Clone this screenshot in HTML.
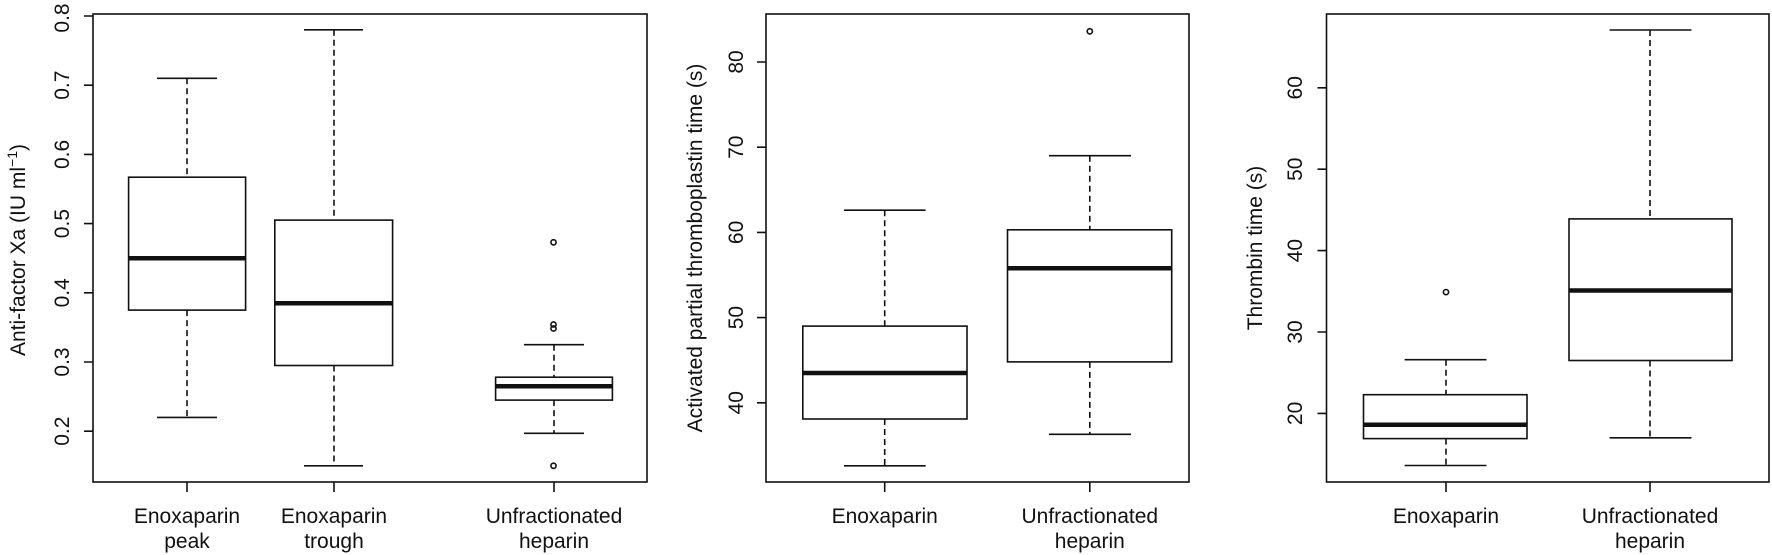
<!DOCTYPE html>
<html><head><meta charset="utf-8"><style>
html,body{margin:0;padding:0;background:#fff;}
svg{display:block;}
text{font-family:"Liberation Sans",Arial,sans-serif;fill:#111;font-size:21px;}
</style></head><body>
<svg width="1772" height="555" viewBox="0 0 1772 555" xmlns="http://www.w3.org/2000/svg">
<g stroke="#111" stroke-width="1.6" fill="none">
<!-- Panel 1 -->
<rect x="93" y="14" width="554" height="468"/>
<path d="M84 431.2H93M84 362H93M84 292.8H93M84 223.6H93M84 154.4H93M84 85.2H93M84 16H93"/>
<path d="M187 482V492M334 482V492M554 482V492"/>
<rect x="128.6" y="177.2" width="117" height="132.9" fill="#fff"/>
<path d="M157 78.3H217M157 417.4H217"/>
<path d="M187 78.3V177.2M187 310.1V417.4" stroke-dasharray="6,4"/>
<path d="M128.6 258.2H245.6" stroke-width="4.5"/>
<rect x="274.8" y="220.1" width="117.8" height="145.4" fill="#fff"/>
<path d="M304 29.8H363M304 465.8H363"/>
<path d="M334 29.8V220.1M334 365.5V465.8" stroke-dasharray="6,4"/>
<path d="M274.8 303.2H392.6" stroke-width="4.5"/>
<rect x="495.6" y="377.2" width="116.8" height="22.9" fill="#fff"/>
<path d="M524 344.7H584M524 433.3H584"/>
<path d="M554 344.7V377.2M554 400.1V433.3" stroke-dasharray="6,4"/>
<path d="M495.6 386.2H612.4" stroke-width="4.5"/>
<circle cx="553.5" cy="242.3" r="2.6"/>
<circle cx="553.5" cy="324.5" r="2.6"/>
<circle cx="553.5" cy="328.5" r="2.6"/>
<circle cx="553.5" cy="465.8" r="2.6"/>

<!-- Panel 2 -->
<rect x="766" y="14" width="423" height="468"/>
<path d="M757 402.8H766M757 317.6H766M757 232.4H766M757 147.2H766M757 62H766"/>
<path d="M884.7 482V492M1089.8 482V492"/>
<rect x="802.8" y="326.1" width="164.2" height="92.9" fill="#fff"/>
<path d="M844 210.2H925.6M844 465.8H925.6"/>
<path d="M884.7 210.2V326.1M884.7 419V465.8" stroke-dasharray="6,4"/>
<path d="M802.8 373H967" stroke-width="4.5"/>
<rect x="1007.5" y="229.8" width="164.2" height="132.1" fill="#fff"/>
<path d="M1049 155.7H1131M1049 434.3H1131"/>
<path d="M1089.8 155.7V229.8M1089.8 361.9V434.3" stroke-dasharray="6,4"/>
<path d="M1007.5 268.2H1171.7" stroke-width="4.5"/>
<circle cx="1089.8" cy="31.3" r="2.6"/>

<!-- Panel 3 -->
<rect x="1326.5" y="14" width="442.5" height="468"/>
<path d="M1317.5 413.4H1326.5M1317.5 332H1326.5M1317.5 250.6H1326.5M1317.5 169.2H1326.5M1317.5 87.8H1326.5"/>
<path d="M1446 482V492M1650 482V492"/>
<rect x="1363.5" y="394.7" width="163.5" height="43.9" fill="#fff"/>
<path d="M1404.6 359.7H1486.5M1404.6 465.5H1486.5"/>
<path d="M1446 359.7V394.7M1446 438.6V465.5" stroke-dasharray="6,4"/>
<path d="M1363.5 424.8H1527" stroke-width="4.5"/>
<circle cx="1446" cy="292.1" r="2.6"/>
<rect x="1569" y="218.9" width="163" height="141.6" fill="#fff"/>
<path d="M1609.6 30H1691.5M1609.6 437.8H1691.5"/>
<path d="M1650 30V218.9M1650 360.5V437.8" stroke-dasharray="6,4"/>
<path d="M1569 290.5H1732" stroke-width="4.5"/>
</g>

<g text-anchor="middle">
<text transform="translate(69,431.2) rotate(-90)">0.2</text>
<text transform="translate(69,362) rotate(-90)">0.3</text>
<text transform="translate(69,292.8) rotate(-90)">0.4</text>
<text transform="translate(69,223.6) rotate(-90)">0.5</text>
<text transform="translate(69,154.4) rotate(-90)">0.6</text>
<text transform="translate(69,85.2) rotate(-90)">0.7</text>
<text transform="translate(69,18) rotate(-90)">0.8</text>
<text transform="translate(25,250) rotate(-90)">Anti-factor Xa (IU ml<tspan dy="-8" font-size="14">−1</tspan><tspan dy="8">)</tspan></text>
<text x="187" y="523">Enoxaparin</text><text x="187" y="548">peak</text>
<text x="334" y="523">Enoxaparin</text><text x="334" y="548">trough</text>
<text x="554" y="523">Unfractionated</text><text x="554" y="548">heparin</text>

<text transform="translate(743,402.8) rotate(-90)">40</text>
<text transform="translate(743,317.6) rotate(-90)">50</text>
<text transform="translate(743,232.4) rotate(-90)">60</text>
<text transform="translate(743,147.2) rotate(-90)">70</text>
<text transform="translate(743,62) rotate(-90)">80</text>
<text transform="translate(702,248) rotate(-90)">Activated partial thromboplastin time (s)</text>
<text x="884.7" y="523">Enoxaparin</text>
<text x="1089.8" y="523">Unfractionated</text><text x="1089.8" y="548">heparin</text>

<text transform="translate(1302,413.4) rotate(-90)">20</text>
<text transform="translate(1302,332) rotate(-90)">30</text>
<text transform="translate(1302,250.6) rotate(-90)">40</text>
<text transform="translate(1302,169.2) rotate(-90)">50</text>
<text transform="translate(1302,87.8) rotate(-90)">60</text>
<text transform="translate(1262,248) rotate(-90)">Thrombin time (s)</text>
<text x="1446" y="523">Enoxaparin</text>
<text x="1650" y="523">Unfractionated</text><text x="1650" y="548">heparin</text>
</g>
</svg>
</body></html>
